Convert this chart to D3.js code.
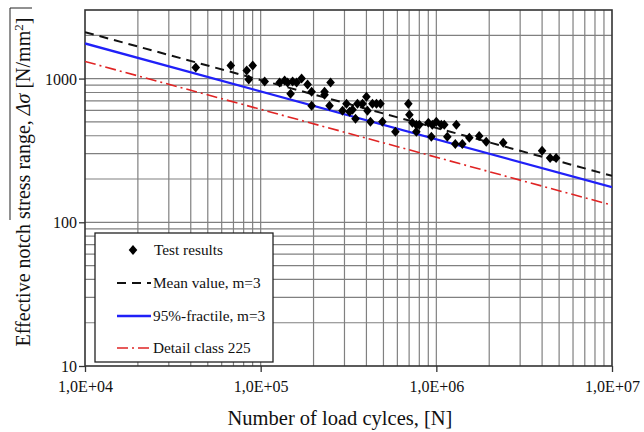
<!DOCTYPE html>
<html>
<head>
<meta charset="utf-8">
<script src="https://cdn.jsdelivr.net/npm/d3@7"></script>
<style>
  body { margin: 0; background: #fff; }
  svg text { font-family: "Liberation Serif", "Times New Roman", serif; fill: #111; }
</style>
</head>
<body>
<svg id="chart" width="644" height="432"></svg>
<script>
// Fatigue test results: number of load cycles N and effective notch stress range Δσ [N/mm²]
const cycles = [
  42700, 67600, 83300, 90100, 85500, 105400, 128200, 136900, 142300, 152000,
  160200, 171000, 184900, 148000, 195000, 250000, 231000, 231000, 195000, 246600,
  292400, 308000, 320400, 333300, 346700, 355700, 380000, 400000, 405500, 421700,
  432900, 456300, 480800, 493300, 584800, 693000, 702600, 730600, 769500, 800400,
  769500, 901000, 948600, 937000, 1000000, 1067000, 1110000, 1155000, 1300000, 1282000,
  1406000, 1541000, 1754000, 1923000, 2403000, 4000000, 4443000, 4808000
];
const stress = [
  1194, 1233, 1137, 1233, 984, 953, 938, 968, 938, 953,
  938, 1000, 908, 785, 811, 938, 811, 773, 647, 647,
  597, 669, 588, 607, 525, 669, 669, 748, 597, 500,
  669, 669, 669, 500, 426, 669, 560, 492, 477, 477,
  426, 492, 477, 393, 500, 477, 477, 393, 477, 351,
  351, 387, 399, 363, 357, 314, 280, 280
];

// S-N curves, slope m = 3, given by their stress range at 2·10^6 cycles
const curveNames = ["Mean value, m=3", "95%-fractile, m=3", "Detail class 225"];
const curveStressAt2e6 = [360, 300, 225];
const slopeM = 3;
const curveRange = [1e4, 1e7];

const xTickValues = [1e4, 1e5, 1e6, 1e7];
const xTickLabels = ["1,0E+04", "1,0E+05", "1,0E+06", "1,0E+07"];
const yTickValues = [10, 100, 1000];
const yTickLabels = ["10", "100", "1000"];

const svg = d3.select("#chart");
const plot = { left: 85, right: 612, top: 10, bottom: 366 };

const x = d3.scaleLog().domain([1e4, 1e7]).range([plot.left, plot.right]);
const y = d3.scaleLog().domain([10, 3000]).range([plot.bottom, plot.top]);

svg.append("defs").append("clipPath").attr("id", "plotClip")
  .append("rect")
  .attr("x", plot.left).attr("y", plot.top)
  .attr("width", plot.right - plot.left).attr("height", plot.bottom - plot.top);

// Grid: every 1..9 multiple of each decade
const xGrid = [];
for (let d = 1e4; d < 1e7; d *= 10) for (let k = 1; k <= 9; k++) if (d * k > 1e4) xGrid.push(d * k);
const yGrid = [];
for (let d = 10; d <= 1000; d *= 10) for (let k = 1; k <= 9; k++) if (d * k > 10 && d * k < 3000) yGrid.push(d * k);

const grid = svg.append("g").attr("stroke", "#808080").attr("stroke-width", 1.2);
grid.selectAll("line.vx").data(xGrid).join("line")
  .attr("x1", d => x(d)).attr("x2", d => x(d))
  .attr("y1", plot.top).attr("y2", plot.bottom);
grid.selectAll("line.hy").data(yGrid).join("line")
  .attr("y1", d => y(d)).attr("y2", d => y(d))
  .attr("x1", plot.left).attr("x2", plot.right);

// Axes with outward major ticks
const xAxis = d3.axisBottom(x).tickValues(xTickValues)
  .tickFormat((d, i) => xTickLabels[i]).tickSize(6).tickSizeOuter(0);
const yAxis = d3.axisLeft(y).tickValues(yTickValues)
  .tickFormat((d, i) => yTickLabels[i]).tickSize(6).tickSizeOuter(0);

const gx = svg.append("g").attr("transform", `translate(0,${plot.bottom})`).call(xAxis);
const gy = svg.append("g").attr("transform", `translate(${plot.left},0)`).call(yAxis);
[gx, gy].forEach(g => {
  g.select(".domain").remove();
  g.selectAll(".tick line").attr("stroke", "#333").attr("stroke-width", 1.3);
  g.selectAll(".tick text").attr("font-size", 16).attr("fill", "#111")
    .style("font-family", "'Liberation Serif', serif");
});
gx.selectAll(".tick text").attr("dy", "1.05em");
gy.selectAll(".tick text").attr("x", -8).attr("dy", "0.35em");

// Plot frame
svg.append("rect")
  .attr("x", plot.left).attr("y", plot.top)
  .attr("width", plot.right - plot.left).attr("height", plot.bottom - plot.top)
  .attr("fill", "none").attr("stroke", "#333").attr("stroke-width", 1.6);

// S-N curves
const curveStyles = [
  { color: "#111", width: 2, dash: "9,6" },
  { color: "#2020f8", width: 2.3, dash: null },
  { color: "#e02424", width: 1.6, dash: "11,4,2,4" }
];
const sn = (ref, n) => ref * Math.pow(2e6 / n, 1 / slopeM);
const line = d3.line().x(d => x(d[0])).y(d => y(d[1]));
const curves = svg.append("g").attr("clip-path", "url(#plotClip)");
curveStressAt2e6.forEach((ref, i) => {
  const pts = curveRange.map(n => [n, sn(ref, n)]);
  curves.append("path")
    .attr("d", line(pts))
    .attr("fill", "none")
    .attr("stroke", curveStyles[i].color)
    .attr("stroke-width", curveStyles[i].width)
    .attr("stroke-dasharray", curveStyles[i].dash);
});

// Test results as filled diamonds
const diamond = "M0,-5L4.3,0L0,5L-4.3,0Z";
svg.append("g").attr("clip-path", "url(#plotClip)")
  .selectAll("path").data(cycles).join("path")
  .attr("d", diamond)
  .attr("transform", (d, i) => `translate(${x(d)},${y(stress[i])})`)
  .attr("fill", "#000");

// Legend
const lg = svg.append("g");
lg.append("rect").attr("x", 95).attr("y", 233).attr("width", 178).attr("height", 129)
  .attr("fill", "#fff").attr("stroke", "#222").attr("stroke-width", 1.3);
const legendRows = [250, 283, 316, 348];
lg.append("path").attr("d", diamond).attr("transform", `translate(133,${legendRows[0]})`).attr("fill", "#000");
lg.append("text").attr("x", 154).attr("y", legendRows[0] + 5).attr("font-size", 15.3).text("Test results");
curveNames.forEach((name, i) => {
  const yy = legendRows[i + 1];
  lg.append("line").attr("x1", 117).attr("x2", 151).attr("y1", yy).attr("y2", yy)
    .attr("stroke", curveStyles[i].color).attr("stroke-width", curveStyles[i].width)
    .attr("stroke-dasharray", curveStyles[i].dash);
  lg.append("text").attr("x", 153).attr("y", yy + 5).attr("font-size", 15.3).text(name);
});

// Axis titles
svg.append("text").attr("x", 340).attr("y", 425).attr("text-anchor", "middle")
  .attr("font-size", 20.5).text("Number of load cylces, [N]");

const yt = svg.append("text")
  .attr("transform", "translate(30,182) rotate(-90)")
  .attr("text-anchor", "middle").attr("font-size", 20);
yt.append("tspan").text("Effective notch stress range, ");
yt.append("tspan").attr("font-style", "italic").text("Δσ");
yt.append("tspan").text("  [N/mm");
yt.append("tspan").attr("font-size", 13).attr("dy", -7).text("2");
yt.append("tspan").attr("dy", 7).text("]");

// Thin margin rule at the left edge
svg.append("path").attr("d", "M32,8H10V220").attr("fill", "none")
  .attr("stroke", "#222").attr("stroke-width", 1);
</script>
</body>
</html>
